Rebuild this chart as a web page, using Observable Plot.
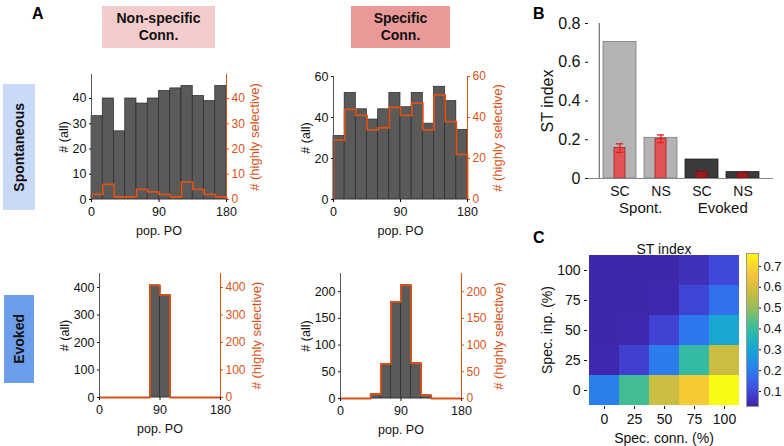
<!DOCTYPE html>
<html><head><meta charset="utf-8">
<script src="https://cdn.jsdelivr.net/npm/d3@7"></script>
<script src="https://cdn.jsdelivr.net/npm/@observablehq/plot@0.6"></script>
<style>
body{margin:0;background:#fff;font-family:"Liberation Sans",Arial,Helvetica,sans-serif;}
#root{position:relative;width:784px;height:446px;overflow:hidden;background:#fff;}
.box{position:absolute;display:flex;align-items:center;justify-content:center;text-align:center;font-weight:bold;font-size:14px;line-height:17px;color:#111;}
.vbox span{writing-mode:vertical-rl;transform:rotate(180deg);}
.letter{position:absolute;font-weight:bold;font-size:16px;color:#000;}
</style></head><body><div id="root"></div>
<script>
// ---------- data ----------
const binStarts = [0,15,30,45,60,75,90,105,120,135,150,165];
const binWidth = 15;
const spontNonSpecAll = [33,40,27,40,38,40,43,44,45,41,39,45];
const spontNonSpecSel = [2,6,1,1,4,3,2,1,7,4,2,1];
const spontSpecAll = [31,52,44,39,44,52,45,52,37,55,48,34];
const spontSpecSel = [29,44,41,34,35,45,41,47,34,51,38,22];
const evokedNonSpecAll = [0,0,0,0,0,408,373,0,0,0,0,0];
const evokedNonSpecSel = [0,0,0,0,0,408,373,0,0,0,0,0];
const evokedSpecAll = [0,0,0,8,65,181,212,66,6,0,0,0];
const evokedSpecSel = [0,0,0,8,65,181,212,66,6,0,0,0];

const stCategories = ["Spont. SC","Spont. NS","Evoked SC","Evoked NS"];
const stGroups = ["Spont.","Evoked"];
const stAll = [0.705,0.21,0.098,0.033];
const stSel = [0.157,0.205,0.035,0.028];
const stSelErr = [0.022,0.02,0.003,0.003];

const specConn = [0,25,50,75,100];
const specInp = [0,25,50,75,100];
const stGrid = [ // rows: spec. inp. 0,25,50,75,100 ; cols: spec. conn. 0..100
  [0.2,0.41,0.57,0.67,0.762],
  [0.035,0.08,0.195,0.39,0.57],
  [0.03,0.035,0.085,0.185,0.31],
  [0.03,0.03,0.035,0.09,0.175],
  [0.03,0.03,0.03,0.05,0.1]
];
const parulaStops = ["#3e26a8","#4352f3","#2787ee","#0fa8d6","#2dbea4","#8cc05b","#d4bb3b","#fcc23a","#f9fb15"];

// ---------- helpers ----------
const ORANGE = "#d95319";
const FONT = "Liberation Sans, Arial, Helvetica, sans-serif";
const root = document.getElementById("root");
function place(el, left, top){el.style.position="absolute";el.style.left=left+"px";el.style.top=top+"px";root.appendChild(el);}
function div(cls, html, left, top, w, h, bg){const d=document.createElement("div");d.className=cls;d.innerHTML=html;d.style.left=left+"px";d.style.top=top+"px";if(w)d.style.width=w+"px";if(h)d.style.height=h+"px";if(bg)d.style.background=bg;root.appendChild(d);return d;}

function hist(o){
  const bars = binStarts.map((x0,i)=>({x1:x0,x2:x0+binWidth,y:o.all[i]})).filter(d=>d.y>0);
  const n = binStarts.length;
  const stairs = [{x:binStarts[0],y:0},...binStarts.map((x0,i)=>({x:x0,y:o.sel[i]})),{x:binStarts[n-1]+binWidth,y:o.sel[n-1]},{x:binStarts[n-1]+binWidth,y:0}];
  return Plot.plot({
    width:o.width,height:o.height,marginLeft:o.ml,marginRight:o.mr,marginTop:o.mt,marginBottom:o.mb,
    style:{fontSize:"12px",fontFamily:FONT,background:"transparent",color:"#111"},
    x:{domain:[0,180]},
    y:{domain:[0,o.yMax]},
    marks:[
      Plot.rectY(bars,{x1:"x1",x2:"x2",y:"y",fill:"#5a5a5a",stroke:"#2a2a2a",strokeWidth:0.7}),
      Plot.ruleY([0],{stroke:"#9a9a9a"}),
      Plot.line(stairs,{x:"x",y:"y",curve:"step-after",stroke:ORANGE,strokeWidth:1.8}),
      Plot.ruleX([0],{stroke:"#555"}),
      Plot.ruleX([180],{stroke:ORANGE}),
      Plot.axisX({ticks:[0,90,180],tickSize:3,tickPadding:5,label:"pop. PO",labelAnchor:"center",labelArrow:"none",labelOffset:35,fontSize:12.5}),
      Plot.axisY({ticks:o.yTicks,anchor:"left",tickSize:2,tickPadding:3,label:"# (all)",labelAnchor:"center",labelArrow:"none",labelOffset:o.lo,fontSize:12.5}),
      Plot.axisY({ticks:o.yTicks,anchor:"right",tickSize:2,tickPadding:3,color:ORANGE,label:null,fontSize:12}),
      Plot.text(["# (highly selective)"],{frameAnchor:"right",textAnchor:"middle",rotate:-90,dx:o.ro,fill:ORANGE,fontSize:13})
    ]
  });
}

// ---------- panel A decorations ----------
div("letter","A",32,5);
div("box","Non-specific<br>Conn.",102,6,113,42,"#f4cccc");
div("box","Specific<br>Conn.",351,6,99,42,"#ea9999");
div("box vbox","<span>Spontaneous</span>",3,84,32,126,"#c9daf8");
div("box vbox","<span>Evoked</span>",4,295,30,88,"#6d9eeb");

// ---------- histograms ----------
place(hist({all:spontNonSpecAll,sel:spontNonSpecSel,yMax:49.5,yTicks:[0,10,20,30,40],
  width:240,height:185,ml:51,mr:54,mt:14,mb:46,lo:32,ro:28}),40,60);
place(hist({all:spontSpecAll,sel:spontSpecSel,yMax:60,yTicks:[0,20,40,60],
  width:240,height:185,ml:48,mr:58,mt:16,mb:46,lo:32,ro:30}),285,60);
place(hist({all:evokedNonSpecAll,sel:evokedNonSpecSel,yMax:451,yTicks:[0,100,200,300,400],
  width:240,height:191,ml:59,mr:60,mt:18,mb:49,lo:39,ro:36}),40,255);
place(hist({all:evokedSpecAll,sel:evokedSpecSel,yMax:234,yTicks:[0,50,100,150,200],
  width:240,height:191,ml:55,mr:64,mt:18,mb:48,lo:39,ro:37}),285,255);

// ---------- panel B ----------
div("letter","B",533,5);
const stData = stCategories.map((c,i)=>({cat:c,group:c.split(" ")[0],all:stAll[i],sel:stSel[i],lo:stSel[i]-stSelErr[i],hi:stSel[i]+stSelErr[i]}));
const groupFirst = stGroups.map(g=>({group:g,cat:stCategories.find(c=>c.startsWith(g))}));
const spont = stData.filter(d=>d.group==="Spont.");
const evoked = stData.filter(d=>d.group==="Evoked");
place(Plot.plot({
  width:264,height:215,marginLeft:68,marginRight:11,marginTop:18,marginBottom:42,
  style:{fontSize:"14px",fontFamily:FONT,background:"transparent",color:"#111"},
  x:{type:"band",domain:stCategories,paddingInner:0.2,paddingOuter:0.33},
  y:{domain:[0,0.8]},
  marks:[
    Plot.barY(spont,{x:"cat",y:"all",fill:"#b3b3b3",stroke:"#7a7a7a",strokeWidth:0.8}),
    Plot.barY(evoked,{x:"cat",y:"all",fill:"#3b3b3b",stroke:"#222",strokeWidth:0.8}),
    Plot.barY(spont,{x:"cat",y:"sel",fill:"#e05454",stroke:"#a52020",strokeWidth:0.8,insetLeft:11,insetRight:11}),
    Plot.barY(evoked,{x:"cat",y:"sel",fill:"#9c1a1a",stroke:"#7a1010",strokeWidth:0.8,insetLeft:11,insetRight:11}),
    Plot.ruleX(spont,{x:"cat",y1:"lo",y2:"hi",stroke:"#e61e1e",strokeWidth:1.3}),
    Plot.tickY(spont,{x:"cat",y:"lo",stroke:"#e61e1e",strokeWidth:1.3,insetLeft:13,insetRight:13}),
    Plot.tickY(spont,{x:"cat",y:"hi",stroke:"#e61e1e",strokeWidth:1.3,insetLeft:13,insetRight:13}),
    Plot.ruleY([0],{stroke:"#888"}),
    Plot.axisY({ticks:[0,0.2,0.4,0.6,0.8],tickSize:3,tickPadding:5,label:"ST index",labelAnchor:"center",labelArrow:"none",labelOffset:47,fontSize:16,tickFormat:d=>d===0?"0":d3.format(".1f")(d)}),
    Plot.ruleX([stCategories[0]],{stroke:"#555",dx:-20.75}),
    Plot.axisX({tickSize:0,tickPadding:8,tickFormat:d=>d.split(" ")[1],label:null,fontSize:14}),
    Plot.text(groupFirst,{x:"cat",text:"group",frameAnchor:"bottom",dx:20.75,dy:34,fontSize:15})
  ]
}),520,5);

// ---------- panel C ----------
div("letter","C",533,229);
const cells = specInp.flatMap((inp,i)=>specConn.map((c,j)=>({conn:c,inp:inp,v:stGrid[i][j]})));
const parula = d3.interpolateRgbBasis(parulaStops);
const colorOpts = {type:"linear",domain:[0.028,0.762],interpolate:parula};
place(Plot.plot({
  width:225,height:218,marginLeft:67,marginRight:5,marginTop:25,marginBottom:40,
  style:{fontSize:"13px",fontFamily:FONT,background:"transparent",color:"#111"},
  x:{type:"band",domain:specConn,padding:0},
  y:{type:"band",domain:[...specInp].reverse(),padding:0},
  color:colorOpts,
  marks:[
    Plot.cell(cells,{x:"conn",y:"inp",fill:"v",inset:0,shapeRendering:"crispEdges"}),
    Plot.axisX({tickSize:3,tickPadding:5,label:"Spec. conn. (%)",labelAnchor:"center",labelArrow:"none",labelOffset:36,fontSize:14}),
    Plot.axisY({tickSize:3,tickPadding:4,label:"Spec. inp. (%)",labelAnchor:"center",labelArrow:"none",labelOffset:45,fontSize:14}),
    Plot.text(["ST index"],{frameAnchor:"top",dy:-9,fontSize:14})
  ]
}),520,228);

const cbStops = d3.range(0.028,0.762,0.004);
place(Plot.plot({
  width:44,height:218,marginLeft:6,marginRight:26,marginTop:25,marginBottom:40,
  style:{fontSize:"13px",fontFamily:FONT,background:"transparent",color:"#111"},
  x:{domain:[0,1],axis:null},
  y:{domain:[0.028,0.762]},
  color:colorOpts,
  marks:[
    Plot.rect(cbStops,{x1:0,x2:1,y1:d=>d,y2:d=>Math.min(d+0.0045,0.762),fill:d=>d,shapeRendering:"crispEdges"}),
    Plot.frame({stroke:"#999"}),
    Plot.axisY({anchor:"right",ticks:[0.1,0.2,0.3,0.4,0.5,0.6,0.7],tickSize:2,tickPadding:3,label:null,tickFormat:d3.format(".1f")})
  ]
}),740,228);
</script></body></html>
